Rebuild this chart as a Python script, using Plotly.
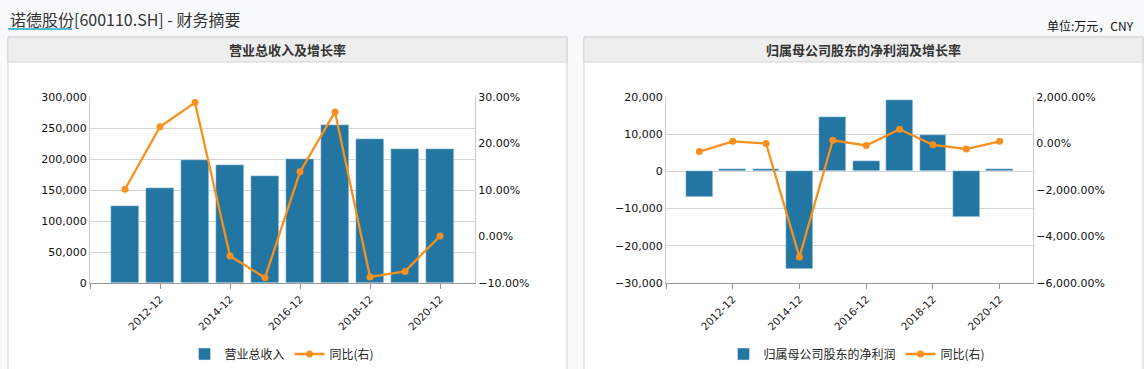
import plotly.graph_objects as go

W, H = 1144, 369

years = [2011, 2012, 2013, 2014, 2015, 2016, 2017, 2018, 2019, 2020]
tick_years = [2010, 2012, 2014, 2016, 2018, 2020]
tick_labels = ["", "2012-12", "2014-12", "2016-12", "2018-12", "2020-12"]

revenue = [124000, 153000, 199000, 190300, 173100, 200300, 254800, 232300, 216100, 216100]
revenue_yoy = [10.15, 23.6, 28.8, -4.2, -8.86, 13.9, 26.8, -8.7, -7.5, 0.1]

net_profit = [-6900, 600, 600, -26200, 14500, 2700, 19100, 9800, -12300, 600]
net_profit_yoy = [-349, 95, -4, -4882, 138, -85, 611, -55, -237, 95]

BAR = "#2476a2"
ORANGE = "#f7901e"
FONT = "DejaVu Sans"
CJK = "Noto Sans CJK SC"


def px(x):
    return x / W


def py(y):
    return 1 - y / H


fig = go.Figure()

fig.add_trace(go.Bar(x=years, y=revenue, name="营业总收入", marker_color=BAR, width=0.8,
                     xaxis="x", yaxis="y", legend="legend"))
fig.add_trace(go.Scatter(x=years, y=revenue_yoy, name="同比(右)", mode="lines+markers",
                         line=dict(color=ORANGE, width=2.3), marker=dict(size=7, color=ORANGE),
                         xaxis="x", yaxis="y2", legend="legend"))
fig.add_trace(go.Bar(x=years, y=net_profit, name="归属母公司股东的净利润", marker_color=BAR, width=0.8,
                     xaxis="x2", yaxis="y3", legend="legend2"))
fig.add_trace(go.Scatter(x=years, y=net_profit_yoy, name="同比(右)", mode="lines+markers",
                         line=dict(color=ORANGE, width=2.3), marker=dict(size=7, color=ORANGE),
                         xaxis="x2", yaxis="y4", legend="legend2"))

tickfont = dict(family=FONT, size=11, color="#111")
xcommon = dict(type="linear", range=[2010, 2021], tickvals=tick_years, ticktext=tick_labels,
               tickangle=-45, ticks="outside", ticklen=5, tickcolor="#999", showgrid=False,
               showline=True, linecolor="#999", linewidth=1, zeroline=False, automargin=False,
               tickfont=dict(family=FONT, size=10.5, color="#222"))
ycommon = dict(showgrid=True, gridcolor="#d4d4d4", gridwidth=1, zeroline=False, automargin=False,
               showline=True, linecolor="#ccc", tickfont=tickfont, ticks="")

yd = [py(283), py(97)]
fig.update_layout(
    xaxis=dict(domain=[px(90), px(475)], anchor="y", **xcommon),
    yaxis=dict(domain=yd, range=[0, 300000], dtick=50000, tickformat=",", anchor="x", **ycommon),
    yaxis2=dict(range=[-10, 30], dtick=10, tickformat=".2f", ticksuffix="%", overlaying="y",
                side="right", anchor="x", showgrid=False, zeroline=False, showline=True,
                linecolor="#ccc", tickfont=tickfont, automargin=False),
    xaxis2=dict(domain=[px(666), px(1033)], anchor="y3", **xcommon),
    yaxis3=dict(domain=yd, range=[-30000, 20000], dtick=10000, tickformat=",", anchor="x2", **ycommon),
    yaxis4=dict(range=[-6000, 2000], dtick=2000, tickformat=",.2f", ticksuffix="%", overlaying="y3",
                side="right", anchor="x2", showgrid=False, zeroline=False, showline=True,
                linecolor="#ccc", tickfont=tickfont, automargin=False),
)

legend_common = dict(orientation="h", yanchor="middle", xanchor="center", y=py(354),
                     font=dict(family=CJK, size=12, color="#222"), bgcolor="rgba(0,0,0,0)",
                     tracegroupgap=0)
fig.update_layout(
    legend=dict(x=px(282), **legend_common),
    legend2=dict(x=px(857), **legend_common),
    showlegend=True,
    bargap=0,
)

shapes = []
# panels
for x0, x1 in [(8, 567), (584, 1143)]:
    shapes.append(dict(type="rect", xref="paper", yref="paper", x0=px(x0), x1=px(x1), y0=py(372), y1=py(37),
                       fillcolor="#ffffff", line=dict(color="#d3d3d3", width=1), layer="below"))
    shapes.append(dict(type="rect", xref="paper", yref="paper", x0=px(x0), x1=px(x1), y0=py(62), y1=py(37),
                       fillcolor="#eeeeef", line=dict(color="#d3d3d3", width=1), layer="below"))
# underline under company name
shapes.append(dict(type="line", xref="paper", yref="paper", x0=px(8), x1=px(72), y0=py(29), y1=py(29),
                   line=dict(color="#1aa3c2", width=1.5)))

annotations = [
    dict(text="诺德股份[600110.SH] - 财务摘要", x=px(8), y=py(19), xref="paper", yref="paper",
         xanchor="left", yanchor="middle", showarrow=False,
         font=dict(family=CJK, size=16, color="#333")),
    dict(text="单位:万元，CNY", x=px(1136), y=py(25), xref="paper", yref="paper",
         xanchor="right", yanchor="middle", showarrow=False,
         font=dict(family=CJK, size=12, color="#111")),
    dict(text="<b>营业总收入及增长率</b>", x=px(287.5), y=py(50), xref="paper", yref="paper",
         xanchor="center", yanchor="middle", showarrow=False,
         font=dict(family=CJK, size=13, color="#333")),
    dict(text="<b>归属母公司股东的净利润及增长率</b>", x=px(863.5), y=py(50), xref="paper", yref="paper",
         xanchor="center", yanchor="middle", showarrow=False,
         font=dict(family=CJK, size=13, color="#333")),
]

fig.update_layout(
    width=W, height=H, margin=dict(l=0, r=0, t=0, b=0, pad=0, autoexpand=False),
    paper_bgcolor="#f8f9fb", plot_bgcolor="rgba(0,0,0,0)",
    shapes=shapes, annotations=annotations,
)

fig.write_html("out.html", config={"displayModeBar": False},
               post_script="document.body.style.margin='0';document.body.style.overflow='hidden';")
